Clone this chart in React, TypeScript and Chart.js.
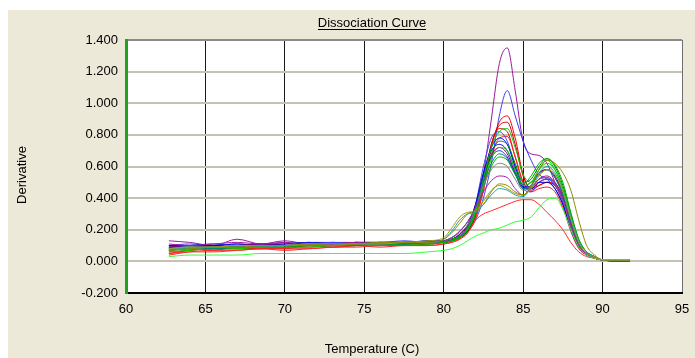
import { useEffect, useRef } from 'react';
import { Chart, registerables } from 'chart.js';

Chart.register(...registerables);

const TITLE = 'Dissociation Curve';
const X_LABEL = 'Temperature (C)';
const Y_LABEL = 'Derivative';

const X_MIN = 60;
const X_MAX = 95;
const X_STEP = 5;
const Y_MIN = -0.2;
const Y_MAX = 1.4;
const Y_STEP = 0.2;

const TEMPS = [62.7, 64, 65.5, 67, 68.5, 70, 71.5, 73, 74.5, 76, 77.5, 79, 80, 80.5, 81, 81.5, 82, 82.5, 83, 83.5, 84, 84.5, 85, 85.5, 86, 86.5, 87, 87.5, 88, 88.5, 89, 89.5, 90, 90.8, 91.7];

const GREEN_LOW = [0.03,0.04,0.04,0.04,0.05,0.05,0.05,0.05,0.05,0.05,0.05,0.06, 0.07,0.08,0.10,0.13,0.16,0.18,0.20,0.21,0.23,0.25,0.26,0.28,0.34,0.39,0.40,0.33,0.20,0.09,0.04,0.02,0.01,0.01,0.01];
const RED_LOW = [0.05,0.06,0.06,0.07,0.08,0.08,0.08,0.09,0.09,0.10,0.10,0.10, 0.11,0.12,0.14,0.18,0.26,0.30,0.32,0.34,0.36,0.38,0.39,0.39,0.36,0.31,0.26,0.20,0.12,0.06,0.03,0.02,0.01,0.01,0.01];
const OLIVE_A = [0.07,0.08,0.09,0.09,0.10,0.10,0.11,0.10,0.11,0.12,0.12,0.12, 0.14,0.18,0.24,0.30,0.32,0.36,0.44,0.49,0.48,0.44,0.42,0.48,0.58,0.64,0.62,0.56,0.45,0.26,0.10,0.04,0.01,0.01,0.01];
const OLIVE_B = [0.08,0.09,0.09,0.10,0.10,0.10,0.11,0.11,0.11,0.11,0.12,0.13, 0.15,0.21,0.28,0.31,0.32,0.38,0.45,0.48,0.46,0.43,0.42,0.46,0.54,0.58,0.55,0.44,0.27,0.12,0.05,0.03,0.01,0.01,0.01];
const TEAL_B = [0.08,0.08,0.09,0.09,0.09,0.10,0.10,0.10,0.11,0.11,0.12,0.12, 0.14,0.19,0.26,0.30,0.31,0.36,0.42,0.46,0.45,0.42,0.41,0.47,0.56,0.60,0.56,0.45,0.28,0.13,0.06,0.03,0.01,0.01,0.01];
const PURPLE_LOW = [0.11,0.10,0.11,0.12,0.11,0.12,0.10,0.11,0.12,0.11,0.12,0.12, 0.13,0.15,0.19,0.25,0.34,0.44,0.51,0.54,0.53,0.46,0.42,0.46,0.52,0.54,0.50,0.40,0.23,0.10,0.05,0.02,0.01,0.00,0.00];
const GRAY_A = [0.08,0.09,0.09,0.10,0.10,0.10,0.11,0.11,0.11,0.12,0.12,0.12, 0.13,0.15,0.18,0.23,0.33,0.48,0.58,0.62,0.60,0.52,0.45,0.47,0.52,0.53,0.49,0.39,0.22,0.10,0.05,0.02,0.01,0.01,0.01];
const TEAL_A = [0.08,0.09,0.08,0.09,0.10,0.10,0.10,0.11,0.10,0.11,0.11,0.12, 0.13,0.15,0.19,0.25,0.34,0.50,0.62,0.68,0.65,0.55,0.46,0.48,0.55,0.58,0.53,0.42,0.25,0.11,0.05,0.03,0.01,0.01,0.01];
const GREEN_D = [0.07,0.08,0.08,0.09,0.09,0.09,0.10,0.10,0.10,0.11,0.11,0.11, 0.12,0.13,0.15,0.20,0.30,0.47,0.60,0.66,0.64,0.55,0.49,0.54,0.62,0.65,0.61,0.50,0.31,0.14,0.06,0.03,0.01,0.01,0.01];
const GREEN_B = [0.06,0.07,0.08,0.08,0.09,0.09,0.09,0.10,0.10,0.10,0.11,0.11, 0.12,0.13,0.15,0.20,0.31,0.49,0.65,0.72,0.70,0.58,0.48,0.50,0.58,0.62,0.58,0.46,0.28,0.13,0.06,0.03,0.01,0.01,0.01];
const GREEN_C = [0.07,0.08,0.09,0.09,0.09,0.10,0.10,0.10,0.11,0.11,0.11,0.12, 0.12,0.13,0.15,0.19,0.30,0.50,0.68,0.76,0.74,0.62,0.50,0.52,0.60,0.65,0.60,0.48,0.30,0.14,0.06,0.03,0.01,0.01,0.01];
const GREEN_A = [0.08,0.09,0.09,0.10,0.09,0.10,0.10,0.11,0.11,0.11,0.12,0.12, 0.13,0.14,0.16,0.21,0.32,0.52,0.72,0.82,0.84,0.72,0.55,0.50,0.58,0.64,0.58,0.46,0.28,0.13,0.06,0.03,0.01,0.01,0.01];
const PURPLE_B = [0.09,0.10,0.09,0.10,0.11,0.10,0.11,0.11,0.12,0.11,0.12,0.12, 0.13,0.14,0.17,0.22,0.33,0.52,0.67,0.72,0.68,0.56,0.46,0.48,0.56,0.58,0.54,0.43,0.25,0.11,0.05,0.02,0.01,0.00,0.00];
const BLUE_C = [0.09,0.10,0.11,0.10,0.11,0.11,0.12,0.11,0.12,0.12,0.12,0.13, 0.13,0.14,0.16,0.21,0.34,0.54,0.66,0.70,0.66,0.56,0.48,0.50,0.56,0.58,0.53,0.42,0.25,0.11,0.05,0.03,0.01,0.01,0.01];
const BLUE_B = [0.10,0.10,0.10,0.11,0.10,0.11,0.12,0.11,0.12,0.12,0.11,0.13, 0.13,0.14,0.17,0.23,0.36,0.56,0.70,0.74,0.70,0.58,0.47,0.46,0.50,0.50,0.46,0.36,0.20,0.09,0.04,0.02,0.01,0.01,0.01];
const BLUE_A = [0.09,0.09,0.10,0.09,0.10,0.10,0.11,0.10,0.12,0.11,0.12,0.12, 0.12,0.13,0.15,0.20,0.33,0.55,0.72,0.78,0.74,0.60,0.48,0.47,0.52,0.53,0.49,0.40,0.24,0.11,0.05,0.02,0.01,0.01,0.01];
const BLUE_D = [0.10,0.11,0.10,0.11,0.10,0.12,0.11,0.12,0.12,0.12,0.13,0.12, 0.13,0.14,0.16,0.22,0.36,0.60,0.78,0.82,0.76,0.60,0.46,0.44,0.50,0.52,0.48,0.38,0.21,0.09,0.04,0.02,0.01,0.01,0.01];
const RED_C = [0.04,0.06,0.07,0.07,0.08,0.07,0.08,0.09,0.10,0.09,0.10,0.10, 0.11,0.12,0.14,0.18,0.27,0.45,0.66,0.78,0.79,0.66,0.50,0.44,0.46,0.47,0.44,0.34,0.19,0.08,0.04,0.02,0.01,0.01,0.01];
const RED_B = [0.07,0.08,0.07,0.09,0.08,0.09,0.10,0.09,0.10,0.11,0.10,0.11, 0.12,0.13,0.15,0.19,0.30,0.50,0.74,0.84,0.82,0.66,0.50,0.45,0.48,0.50,0.48,0.38,0.22,0.10,0.05,0.02,0.01,0.01,0.01];
const RED_D = [0.06,0.07,0.08,0.08,0.08,0.09,0.09,0.10,0.10,0.10,0.11,0.11, 0.12,0.13,0.15,0.19,0.29,0.48,0.74,0.86,0.88,0.74,0.54,0.46,0.48,0.50,0.48,0.39,0.23,0.10,0.05,0.02,0.01,0.01,0.01];
const RED_A = [0.05,0.07,0.08,0.08,0.09,0.08,0.10,0.10,0.11,0.10,0.11,0.12, 0.12,0.13,0.15,0.19,0.28,0.45,0.72,0.88,0.92,0.78,0.55,0.46,0.50,0.52,0.50,0.41,0.25,0.11,0.05,0.03,0.01,0.01,0.01];
const BLUE_TALL = [0.10,0.10,0.09,0.10,0.11,0.10,0.12,0.12,0.11,0.12,0.12,0.12, 0.13,0.14,0.16,0.19,0.26,0.40,0.62,0.92,1.08,0.92,0.76,0.64,0.55,0.52,0.46,0.36,0.22,0.10,0.05,0.03,0.01,0.01,0.01];
const PURPLE_TALL = [0.13,0.12,0.10,0.14,0.11,0.13,0.11,0.12,0.11,0.12,0.12,0.12, 0.13,0.14,0.16,0.20,0.30,0.55,0.90,1.25,1.35,1.08,0.76,0.68,0.67,0.62,0.50,0.38,0.22,0.10,0.05,0.02,0.01,0.00,0.00];

const SERIES: [string, number[], string][] = [
  ['Well 1', GREEN_LOW, '#33FF33'],
  ['Well 2', RED_LOW, '#FF2A2A'],
  ['Well 3', OLIVE_A, '#8C8C00'],
  ['Well 4', OLIVE_B, '#A0A020'],
  ['Well 5', TEAL_B, '#20A0A0'],
  ['Well 6', PURPLE_LOW, '#A020A0'],
  ['Well 7', GRAY_A, '#808080'],
  ['Well 8', TEAL_A, '#008080'],
  ['Well 9', GREEN_D, '#00B000'],
  ['Well 10', GREEN_B, '#00E000'],
  ['Well 11', GREEN_C, '#008000'],
  ['Well 12', GREEN_A, '#00C800'],
  ['Well 13', PURPLE_B, '#800080'],
  ['Well 14', BLUE_C, '#2020E0'],
  ['Well 15', BLUE_B, '#0000CC'],
  ['Well 16', BLUE_A, '#0000FF'],
  ['Well 17', BLUE_D, '#4040FF'],
  ['Well 18', RED_C, '#FF2020'],
  ['Well 19', RED_B, '#E00000'],
  ['Well 20', RED_D, '#CC0000'],
  ['Well 21', RED_A, '#FF0000'],
  ['Well 22', BLUE_TALL, '#3A3AFF'],
  ['Well 23', PURPLE_TALL, '#9A1A9A'],
];

const FONT = '"Liberation Sans", Arial, sans-serif';

const decorPlugin = {
  id: 'decor',
  beforeDraw(chart: any) {
    const { ctx, chartArea } = chart;
    ctx.save();
    ctx.fillStyle = '#FFFFFF';
    ctx.fillRect(chartArea.left, chartArea.top, chartArea.right - chartArea.left, chartArea.bottom - chartArea.top);
    ctx.restore();
  },
  afterDraw(chart: any) {
    const { ctx } = chart;
    ctx.save();
    ctx.fillStyle = '#000000';
    ctx.font = `13px ${FONT}`;
    ctx.textAlign = 'center';
    ctx.textBaseline = 'alphabetic';
    ctx.fillText(TITLE, 364, 17);
    const w = ctx.measureText(TITLE).width;
    ctx.fillRect(Math.round(364 - w / 2), 19, Math.round(w), 1);
    ctx.fillText(X_LABEL, 364, 343);
    ctx.translate(14, 165);
    ctx.rotate(-Math.PI / 2);
    ctx.textBaseline = 'middle';
    ctx.fillText(Y_LABEL, 0, 0);
    ctx.restore();
  },
};

export default function App() {
  const ref = useRef<HTMLCanvasElement>(null);

  useEffect(() => {
    if (!ref.current) return;
    const chart = new Chart(ref.current, {
      type: 'line',
      data: {
        datasets: SERIES.map(([label, values, color]) => ({
          label,
          data: values.map((v, i) => ({ x: TEMPS[i], y: v })),
          borderColor: color,
          backgroundColor: color,
          borderWidth: 1,
          pointRadius: 0,
          fill: false,
          cubicInterpolationMode: 'monotone' as const,
        })),
      },
      options: {
        responsive: false,
        animation: false,
        layout: { padding: { top: 30, right: 13, left: 0, bottom: 0 } },
        plugins: {
          legend: { display: false },
          title: { display: false },
          tooltip: { enabled: false },
        },
        scales: {
          x: {
            type: 'linear',
            min: X_MIN,
            max: X_MAX,
            afterFit: (scale: any) => {
              scale.height = 65;
              scale.paddingLeft = 0;
              scale.paddingRight = 0;
            },
            ticks: {
              stepSize: X_STEP,
              color: '#000',
              font: { family: FONT, size: 13 },
              padding: 9,
              maxRotation: 0,
              autoSkip: false,
            },
            grid: {
              drawTicks: false,
              lineWidth: 1,
              color: (c: any) => (c.tick && c.tick.value === X_MAX ? '#707070' : '#1A1A1A'),
            },
            border: { color: '#000', width: 2 },
          },
          y: {
            type: 'linear',
            min: Y_MIN,
            max: Y_MAX,
            afterFit: (scale: any) => { scale.width = 118; },
            ticks: {
              stepSize: Y_STEP,
              color: '#000',
              font: { family: FONT, size: 13 },
              padding: 8,
              callback: (v: any) => {
                const n = Math.round(Number(v) * 1000) / 1000;
                return (n === 0 ? 0 : n).toFixed(3);
              },
            },
            grid: {
              drawTicks: false,
              lineWidth: 2,
              color: (c: any) => (c.tick && Math.abs(c.tick.value - Y_MAX) < 1e-6 ? '#8A8A8A' : '#C6C2B2'),
            },
            border: { color: '#22A022', width: 3 },
          },
        },
      },
      plugins: [decorPlugin],
    });
    return () => chart.destroy();
  }, []);

  return (
    <div>
      <canvas
        ref={ref}
        width={687}
        height={348}
        style={{ position: 'fixed', left: 8, top: 10, display: 'block', background: '#ECE9D8' }}
      />
    </div>
  );
}
